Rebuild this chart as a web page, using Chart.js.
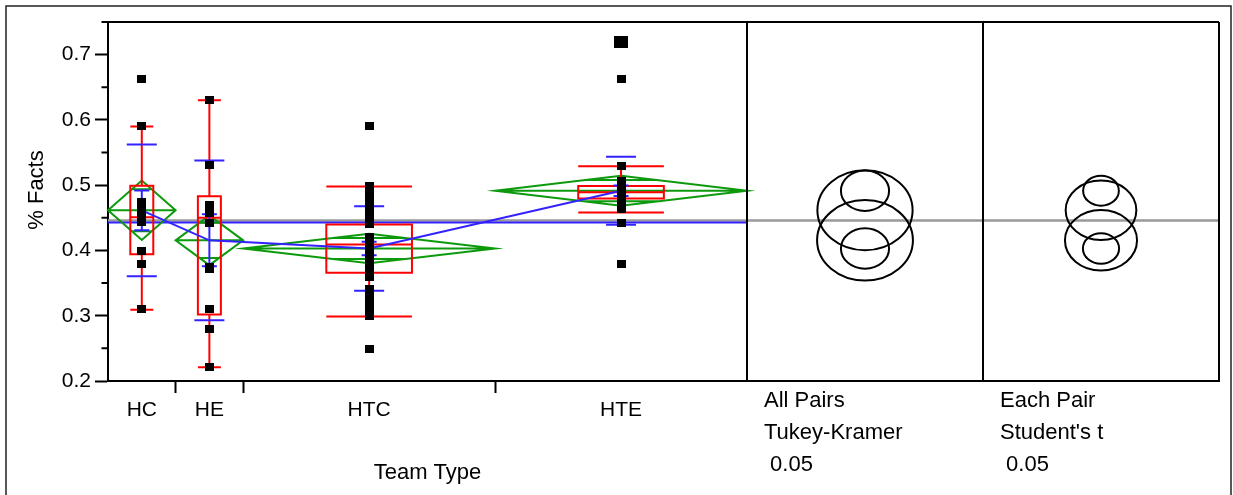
<!DOCTYPE html>
<html>
<head>
<meta charset="utf-8">
<script src="https://cdn.jsdelivr.net/npm/chart.js@4/dist/chart.umd.min.js"></script>
<style>
  html, body { margin: 0; padding: 0; background: #fff; }
  canvas { display: block; }
</style>
</head>
<body>
<canvas id="oneway" width="1233" height="495"></canvas>
<script>
// ---- data: % Facts by Team Type ----
const teamTypes = ['HC', 'HE', 'HTC', 'HTE'];

const factsHC = [0.662, 0.591, 0.474, 0.468, 0.462, 0.456, 0.450, 0.443, 0.399, 0.380, 0.311];
const factsHE = [0.631, 0.531, 0.469, 0.462, 0.458, 0.442, 0.375, 0.372, 0.311, 0.279, 0.222];
const factsHTC = [0.591, 0.498, 0.492, 0.486, 0.478, 0.470, 0.462, 0.455, 0.447, 0.440,
                  0.421, 0.419, 0.417, 0.416, 0.415, 0.414, 0.413, 0.412, 0.411, 0.410,
                  0.409, 0.405, 0.400, 0.395, 0.390, 0.385, 0.380, 0.375, 0.370, 0.366,
                  0.362, 0.359, 0.341, 0.336, 0.330, 0.324, 0.318, 0.312, 0.306, 0.300, 0.249];
const factsHTE = [0.720, 0.720, 0.662, 0.530, 0.507, 0.505, 0.503, 0.502, 0.501, 0.499,
                  0.498, 0.497, 0.496, 0.495, 0.494, 0.493, 0.492, 0.491, 0.490, 0.4895,
                  0.489, 0.488, 0.487, 0.486, 0.485, 0.484, 0.483, 0.482, 0.481, 0.480,
                  0.479, 0.477, 0.475, 0.473, 0.471, 0.469, 0.467, 0.465, 0.463, 0.442, 0.380];

// group summaries
const groupMeans   = [0.4615, 0.4155, 0.4030, 0.4915];
const meanCI95     = [0.0455, 0.0380, 0.0225, 0.0230];   // half height of the 95% mean diamond
const groupStdDev  = [0.1010, 0.1225, 0.0648, 0.0520];
const groupStdErr  = [0.0305, 0.0398, 0.0105, 0.0079];
const quartile1    = [0.394, 0.302, 0.366, 0.4795];
const medians      = [0.451, 0.450, 0.409, 0.489];
const quartile3    = [0.499, 0.483, 0.4396, 0.4988];
const whiskerLow   = [0.309, 0.221, 0.299, 0.458];
const whiskerHigh  = [0.590, 0.630, 0.498, 0.529];
const grandMean    = 0.4445;

// comparison circle radii (response units)
const tukeyRadius   = [0.0613, 0.0617, 0.0310, 0.0310];
const studentRadius = [0.0455, 0.0464, 0.0233, 0.0230];

const yTickValues  = [0.2, 0.3, 0.4, 0.5, 0.6, 0.7];
const yMinorValues = [0.25, 0.35, 0.45, 0.55, 0.65, 0.75];
const yAxisTitle = '% Facts';
const xAxisTitle = 'Team Type';

const comparisonPanels = [
  { lines: ['All Pairs', 'Tukey-Kramer', ' 0.05'], radii: tukeyRadius },
  { lines: ['Each Pair', "Student's t", ' 0.05'], radii: studentRadius }
];

// ---- x units: each group is as wide as its count ----
const groups = [factsHC, factsHE, factsHTC, factsHTE];
const bounds = [0];
groups.forEach(g => bounds.push(bounds[bounds.length - 1] + g.length));
const centers = groups.map((g, i) => bounds[i] + g.length / 2);
const totalN = bounds[bounds.length - 1];

const FAMILY = "'Liberation Sans', Arial, sans-serif";
const TICK_FONT = { family: FAMILY, size: 21 };
const TEXT_FONT = { family: FAMILY, size: 22 };
const RED = '#ff0000', GREEN = '#0c9a0c', BLUE = '#3322ff', GRAY = '#999999';

// square markers
function makeMarker(w, h) {
  const c = document.createElement('canvas');
  c.width = w; c.height = h;
  const g = c.getContext('2d');
  g.fillStyle = '#000';
  g.fillRect(0, 0, w, h);
  return c;
}
const markerSmall = makeMarker(9, 8);
const markerLarge = makeMarker(14, 12);

const points = [];
groups.forEach((g, i) => {
  g.forEach(v => {
    const ties = g.filter(u => u === v).length;
    points.push({ x: centers[i], y: v, ties });
  });
});

const onewayPlugin = {
  id: 'onewayDecor',
  beforeDatasetsDraw(chart) {
    const { ctx, scales: { x, y }, chartArea: a } = chart;
    ctx.save();
    // reference line for the overall mean
    const gm = y.getPixelForValue(grandMean);
    ctx.strokeStyle = GRAY; ctx.lineWidth = 2.5;
    ctx.beginPath(); ctx.moveTo(a.left, gm - 1); ctx.lineTo(a.right + 472, gm - 1); ctx.stroke();
    ctx.strokeStyle = BLUE; ctx.lineWidth = 2;
    ctx.beginPath(); ctx.moveTo(a.left, gm + 1); ctx.lineTo(a.right, gm + 1); ctx.stroke();

    groups.forEach((g, i) => {
      const cx = x.getPixelForValue(centers[i]);
      const left = x.getPixelForValue(bounds[i]);
      const right = x.getPixelForValue(bounds[i + 1]);
      const w = right - left;
      const m = y.getPixelForValue(groupMeans[i]);
      const top = y.getPixelForValue(groupMeans[i] + meanCI95[i]);
      const bot = y.getPixelForValue(groupMeans[i] - meanCI95[i]);

      // means diamond with overlap marks
      ctx.strokeStyle = GREEN; ctx.lineWidth = 2;
      ctx.beginPath();
      ctx.moveTo(left, m); ctx.lineTo(cx, top); ctx.lineTo(right, m); ctx.lineTo(cx, bot); ctx.closePath();
      ctx.moveTo(left, m); ctx.lineTo(right, m);
      const oh = (m - top) / Math.SQRT2;
      const ow = (w / 2) * (1 - Math.SQRT1_2);
      ctx.moveTo(cx - ow, m - oh); ctx.lineTo(cx + ow, m - oh);
      ctx.moveTo(cx - ow, m + oh); ctx.lineTo(cx + ow, m + oh);
      ctx.stroke();

      // outlier box plot
      const bw = w * 0.34;
      const q1 = y.getPixelForValue(quartile1[i]);
      const q3 = y.getPixelForValue(quartile3[i]);
      const md = y.getPixelForValue(medians[i]);
      const wl = y.getPixelForValue(whiskerLow[i]);
      const wh = y.getPixelForValue(whiskerHigh[i]);
      ctx.strokeStyle = RED; ctx.lineWidth = 2;
      ctx.beginPath();
      ctx.rect(cx - bw / 2, q3, bw, q1 - q3);
      ctx.moveTo(cx - bw / 2, md); ctx.lineTo(cx + bw / 2, md);
      ctx.moveTo(cx, q3); ctx.lineTo(cx, wh);
      ctx.moveTo(cx, q1); ctx.lineTo(cx, wl);
      ctx.moveTo(cx - bw / 2, wh); ctx.lineTo(cx + bw / 2, wh);
      ctx.moveTo(cx - bw / 2, wl); ctx.lineTo(cx + bw / 2, wl);
      ctx.stroke();

      // mean error bars and std dev lines
      const seHi = y.getPixelForValue(groupMeans[i] + groupStdErr[i]);
      const seLo = y.getPixelForValue(groupMeans[i] - groupStdErr[i]);
      const sdHi = y.getPixelForValue(groupMeans[i] + groupStdDev[i]);
      const sdLo = y.getPixelForValue(groupMeans[i] - groupStdDev[i]);
      ctx.strokeStyle = BLUE; ctx.lineWidth = 2;
      ctx.beginPath();
      ctx.moveTo(cx, seHi); ctx.lineTo(cx, seLo);
      ctx.moveTo(cx - 7.5, seHi); ctx.lineTo(cx + 7.5, seHi);
      ctx.moveTo(cx - 7.5, seLo); ctx.lineTo(cx + 7.5, seLo);
      ctx.moveTo(cx - 15, sdHi); ctx.lineTo(cx + 15, sdHi);
      ctx.moveTo(cx - 15, sdLo); ctx.lineTo(cx + 15, sdLo);
      ctx.stroke();
    });
    ctx.restore();
  },
  afterDraw(chart) {
    const { ctx, scales: { y }, chartArea: a } = chart;
    ctx.save();
    // outer frame
    ctx.strokeStyle = '#222'; ctx.lineWidth = 1.5;
    ctx.beginPath();
    ctx.moveTo(6, 500); ctx.lineTo(6, 6); ctx.lineTo(1231, 6); ctx.lineTo(1231, 500);
    ctx.stroke();

    // response axis title
    ctx.fillStyle = '#000';
    ctx.font = `${TEXT_FONT.size}px ${FAMILY}`;
    ctx.save();
    ctx.translate(37, 190);
    ctx.rotate(-Math.PI / 2);
    ctx.textAlign = 'center'; ctx.textBaseline = 'middle';
    ctx.fillText(yAxisTitle, 0, 0);
    ctx.restore();

    // minor ticks on the response axis
    ctx.strokeStyle = '#000'; ctx.lineWidth = 2;
    ctx.beginPath();
    yMinorValues.forEach(v => {
      const py = y.getPixelForValue(v);
      ctx.moveTo(a.left - 6.5, py); ctx.lineTo(a.left, py);
    });
    ctx.stroke();

    // plot frame and comparison circle panels
    const panelW = 236;
    const farRight = a.right + panelW * comparisonPanels.length;
    ctx.beginPath();
    ctx.moveTo(a.left, a.top); ctx.lineTo(farRight, a.top);
    ctx.moveTo(a.right, a.bottom); ctx.lineTo(farRight, a.bottom);
    for (let k = 0; k <= comparisonPanels.length; k++) {
      const px = a.right + panelW * k;
      ctx.moveTo(px, a.top); ctx.lineTo(px, a.bottom + 1);
    }
    ctx.stroke();

    comparisonPanels.forEach((p, k) => {
      const x0 = a.right + panelW * k;
      const cx = x0 + panelW / 2;
      ctx.strokeStyle = '#000'; ctx.lineWidth = 2;
      groupMeans.forEach((mv, i) => {
        const cy = y.getPixelForValue(mv);
        const ry = y.getPixelForValue(mv - p.radii[i]) - cy;
        ctx.beginPath();
        ctx.ellipse(cx, cy, ry * 1.19, ry, 0, 0, Math.PI * 2);
        ctx.stroke();
      });
      ctx.fillStyle = '#000';
      ctx.textAlign = 'left'; ctx.textBaseline = 'alphabetic';
      p.lines.forEach((t, j) => ctx.fillText(t, x0 + 17, 407 + j * 32));
    });
    ctx.restore();
  }
};

Chart.defaults.color = '#000';
Chart.defaults.font.family = FAMILY;

new Chart(document.getElementById('oneway'), {
  type: 'scatter',
  data: {
    datasets: [
      {
        type: 'line',
        data: groupMeans.map((m, i) => ({ x: centers[i], y: m })),
        borderColor: BLUE, borderWidth: 2, pointRadius: 0, tension: 0, order: 2
      },
      {
        type: 'scatter',
        data: points,
        pointStyle: c => (c.raw && c.raw.ties > 1 ? markerLarge : markerSmall),
        pointRadius: 5,
        order: 1
      }
    ]
  },
  options: {
    responsive: false,
    animation: false,
    devicePixelRatio: 1,
    layout: { padding: { left: 0, top: 22, right: 486, bottom: 0 } },
    plugins: { legend: { display: false }, tooltip: { enabled: false } },
    scales: {
      x: {
        type: 'linear', min: 0, max: totalN,
        afterBuildTicks(axis) {
          const t = [];
          teamTypes.forEach((name, i) => {
            t.push({ value: centers[i] });
            if (i < teamTypes.length - 1) t.push({ value: bounds[i + 1] });
          });
          axis.ticks = t;
        },
        afterFit(axis) { axis.height = 114; },
        grid: {
          drawOnChartArea: false, tickLength: 12, tickWidth: 2,
          tickColor: c => (c.tick && bounds.includes(c.tick.value) ? '#000' : 'rgba(0,0,0,0)')
        },
        border: { color: '#000', width: 2 },
        ticks: {
          autoSkip: false, maxRotation: 0, padding: 5, font: TICK_FONT,
          callback(v) {
            const i = centers.indexOf(v);
            return i >= 0 ? teamTypes[i] : '';
          }
        },
        title: { display: true, text: xAxisTitle, font: TEXT_FONT, padding: { top: 0, bottom: 9 } }
      },
      y: {
        min: 0.2, max: 0.75,
        afterBuildTicks(axis) { axis.ticks = yTickValues.map(v => ({ value: v })); },
        afterFit(axis) { axis.width = 108; },
        grid: { drawOnChartArea: false, tickLength: 13, tickWidth: 2, tickColor: '#000' },
        border: { color: '#000', width: 2 },
        ticks: { padding: 4, font: TICK_FONT, callback: v => v.toFixed(1) }
      }
    }
  },
  plugins: [onewayPlugin]
});
</script>
</body>
</html>
